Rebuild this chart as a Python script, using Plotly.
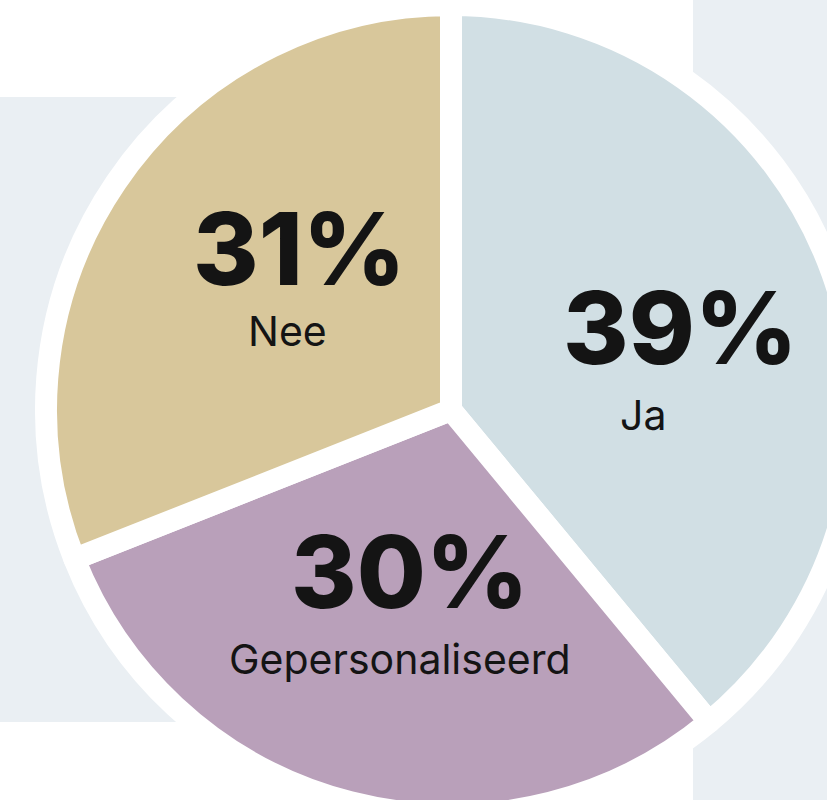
import plotly.graph_objects as go

# ---- data ----
labels = ["Ja", "Gepersonaliseerd", "Nee"]
values = [39, 30, 31]
slice_colors = ["#D1DFE4", "#B9A0BA", "#D8C79B"]

# ---- canvas ----
W, H = 870, 830          # larger than window; the window crops right/bottom
CX, CY, R = 451, 410, 405  # pie centre / radius in px (from top-left)

def fx(px):
    return px / W

def fy(py):
    return 1 - py / H

fig = go.Figure()
fig.add_trace(go.Pie(
    labels=labels,
    values=values,
    sort=False,
    direction="clockwise",
    rotation=0,
    marker=dict(colors=slice_colors, line=dict(color="white", width=22)),
    textinfo="none",
    hoverinfo="label+percent",
    showlegend=False,
    domain=dict(x=[fx(CX - R), fx(CX + R)], y=[fy(CY + R), fy(CY - R)]),
))

BG = "#EAEFF3"
shapes = [
    dict(type="rect", xref="paper", yref="paper", layer="below",
         x0=fx(0), x1=fx(320), y0=fy(722), y1=fy(97),
         fillcolor=BG, line=dict(width=0)),
    dict(type="rect", xref="paper", yref="paper", layer="below",
         x0=fx(693), x1=fx(W), y0=fy(H), y1=fy(0),
         fillcolor=BG, line=dict(width=0)),
]

# label positions (px centre of text)
pct_pos = {"Ja": (680, 327), "Gepersonaliseerd": (410, 571), "Nee": (299, 248)}
lab_pos = {"Ja": (643, 415), "Gepersonaliseerd": (400, 659), "Nee": (287, 331)}

annotations = []
for lab, v in zip(labels, values):
    px, py = pct_pos[lab]
    annotations.append(dict(
        x=fx(px), y=fy(py), xref="paper", yref="paper",
        xanchor="center", yanchor="middle", showarrow=False,
        text=f"{v}%",
        font=dict(family="Inter", size=100, color="#141414", weight=800),
    ))
    px, py = lab_pos[lab]
    annotations.append(dict(
        x=fx(px), y=fy(py), xref="paper", yref="paper",
        xanchor="center", yanchor="middle", showarrow=False,
        text=lab,
        font=dict(family="Inter", size=41, color="#141414", weight=400),
    ))

fig.update_layout(
    width=W, height=H,
    margin=dict(l=0, r=0, t=0, b=0),
    paper_bgcolor="white",
    plot_bgcolor="white",
    shapes=shapes,
    annotations=annotations,
)

fig.write_html(
    "out.html",
    config={"displayModeBar": False},
    post_script="document.body.style.margin='0';document.body.style.overflow='hidden';",
)
